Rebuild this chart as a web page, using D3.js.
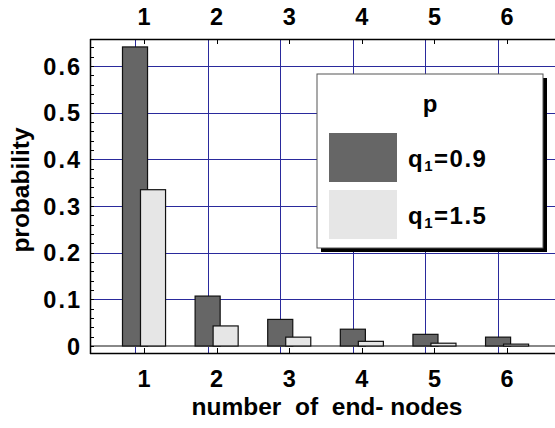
<!DOCTYPE html>
<html><head><meta charset="utf-8">
<script src="https://cdn.jsdelivr.net/npm/d3@7"></script>
<style>
html,body{margin:0;padding:0;background:#fff;}
text{font-family:"Liberation Sans",Arial,sans-serif;font-weight:bold;fill:#000;}
</style></head>
<body>
<svg id="chart" width="555" height="428"></svg>
<script>
const categories = [1, 2, 3, 4, 5, 6];
const seriesNames = ["q1=0.9", "q1=1.5"];
const valuesQ09 = [0.641, 0.107, 0.057, 0.036, 0.025, 0.019];
const valuesQ15 = [0.335, 0.043, 0.019, 0.010, 0.006, 0.004];
const yTickValues = [0, 0.1, 0.2, 0.3, 0.4, 0.5, 0.6];
const yTickLabels = ["0", "0.1", "0.2", "0.3", "0.4", "0.5", "0.6"];
const xLabel = "number  of  end- nodes";
const yLabel = "probability";
const legendTitle = "p";

const svg = d3.select("#chart");
const L = 90, R = 555, T = 39, B = 353;
const x = d3.scaleLinear().domain([0.256, 6.66]).range([L, R]);
const y = d3.scaleLinear().domain([-0.015, 0.658]).range([B, T]);
const off = 0.124, bw = 0.345;
const gridColor = "#2a2a9c";

// grid
const g = svg.append("g");
g.selectAll(".vg").data(categories).enter().append("line")
  .attr("x1", d => Math.round(x(d - off)) + 0.5).attr("x2", d => Math.round(x(d - off)) + 0.5)
  .attr("y1", T).attr("y2", B).attr("stroke", gridColor).attr("stroke-width", 1);
g.selectAll(".hg").data(yTickValues.filter(v => v > 0)).enter().append("line")
  .attr("x1", L).attr("x2", R)
  .attr("y1", d => Math.round(y(d)) + 0.5).attr("y2", d => Math.round(y(d)) + 0.5)
  .attr("stroke", gridColor).attr("stroke-width", 1);
// zero line
g.append("line").attr("x1", L).attr("x2", R).attr("y1", y(0)).attr("y2", y(0))
  .attr("stroke", "#888").attr("stroke-width", 2);

// bars
const bars = svg.append("g");
bars.selectAll(".b1").data(categories).enter().append("rect")
  .attr("x", (d) => x(d - off - bw / 2)).attr("width", x(bw) - x(0))
  .attr("y", (d, i) => y(valuesQ09[i])).attr("height", (d, i) => y(0) - y(valuesQ09[i]))
  .attr("fill", "#666666").attr("stroke", "#111").attr("stroke-width", 1.2);
bars.selectAll(".b2").data(categories).enter().append("rect")
  .attr("x", (d) => x(d + off - bw / 2)).attr("width", x(bw) - x(0))
  .attr("y", (d, i) => y(valuesQ15[i])).attr("height", (d, i) => y(0) - y(valuesQ15[i]))
  .attr("fill", "#e6e6e6").attr("stroke", "#111").attr("stroke-width", 1.2);

// axes frame
const ax = svg.append("g").attr("stroke", "#000");
ax.append("line").attr("x1", L).attr("x2", R).attr("y1", T + 0.5).attr("y2", T + 0.5).attr("stroke-width", 1.5);
ax.append("line").attr("x1", L).attr("x2", R).attr("y1", B + 0.5).attr("y2", B + 0.5).attr("stroke-width", 1.5);
ax.append("line").attr("x1", L + 0.5).attr("x2", L + 0.5).attr("y1", T).attr("y2", B + 1).attr("stroke-width", 1.5);

// left minor ticks
const minor = d3.range(0, 0.66, 0.02);
ax.selectAll(".mt").data(minor).enter().append("line")
  .attr("x1", L).attr("x2", L + 4)
  .attr("y1", d => Math.round(y(d)) + 0.5).attr("y2", d => Math.round(y(d)) + 0.5)
  .attr("stroke-width", 1);
// top/bottom ticks
ax.selectAll(".tt").data(categories).enter().append("line")
  .attr("x1", d => Math.round(x(d)) + 0.5).attr("x2", d => Math.round(x(d)) + 0.5)
  .attr("y1", T).attr("y2", T + 5).attr("stroke-width", 1);
ax.selectAll(".bt").data(categories).enter().append("line")
  .attr("x1", d => Math.round(x(d)) + 0.5).attr("x2", d => Math.round(x(d)) + 0.5)
  .attr("y1", B).attr("y2", B - 5).attr("stroke-width", 1);

// tick labels
const tfs = 23.5;
svg.selectAll(".yl").data(yTickValues).enter().append("text")
  .attr("x", 82).attr("y", d => y(d) + 8.5).attr("text-anchor", "end")
  .attr("letter-spacing", 2)
  .attr("font-size", tfs).text((d, i) => yTickLabels[i]);
svg.selectAll(".xtl").data(categories).enter().append("text")
  .attr("x", d => x(d)).attr("y", 25).attr("text-anchor", "middle")
  .attr("font-size", tfs).text(d => d);
svg.selectAll(".xbl").data(categories).enter().append("text")
  .attr("x", d => x(d)).attr("y", 387).attr("text-anchor", "middle")
  .attr("font-size", tfs).text(d => d);

// axis titles
svg.append("text").attr("x", 327).attr("y", 415).attr("text-anchor", "middle")
  .attr("font-size", 24.5).style("white-space", "pre").text(xLabel);
svg.append("text").attr("transform", "translate(29,190) rotate(-90)").attr("text-anchor", "middle")
  .attr("font-size", 24.5).text(yLabel);

// legend
const lg = svg.append("g");
lg.append("rect").attr("x", 321).attr("y", 78).attr("width", 226).attr("height", 174).attr("fill", "#000");
lg.append("rect").attr("x", 317).attr("y", 74).attr("width", 226).attr("height", 174)
  .attr("fill", "#fff").attr("stroke", "#555").attr("stroke-width", 1);
lg.append("text").attr("x", 430).attr("y", 112).attr("text-anchor", "middle").attr("font-size", 24).text(legendTitle);
const fills = ["#666666", "#e6e6e6"];
seriesNames.forEach((name, i) => {
  const yy = 133 + i * 57;
  lg.append("rect").attr("x", 329).attr("y", yy).attr("width", 68).attr("height", 49).attr("fill", fills[i]);
  const t = lg.append("text").attr("x", 408).attr("y", yy + 34).attr("font-size", 24)
    .attr("letter-spacing", 1.5);
  const parts = name.split("=");
  t.append("tspan").text(parts[0][0]);
  t.append("tspan").attr("font-size", 15).attr("dy", 4).text(parts[0].slice(1));
  t.append("tspan").attr("dy", -4).text("=" + parts[1]);
});
</script>
</body></html>
